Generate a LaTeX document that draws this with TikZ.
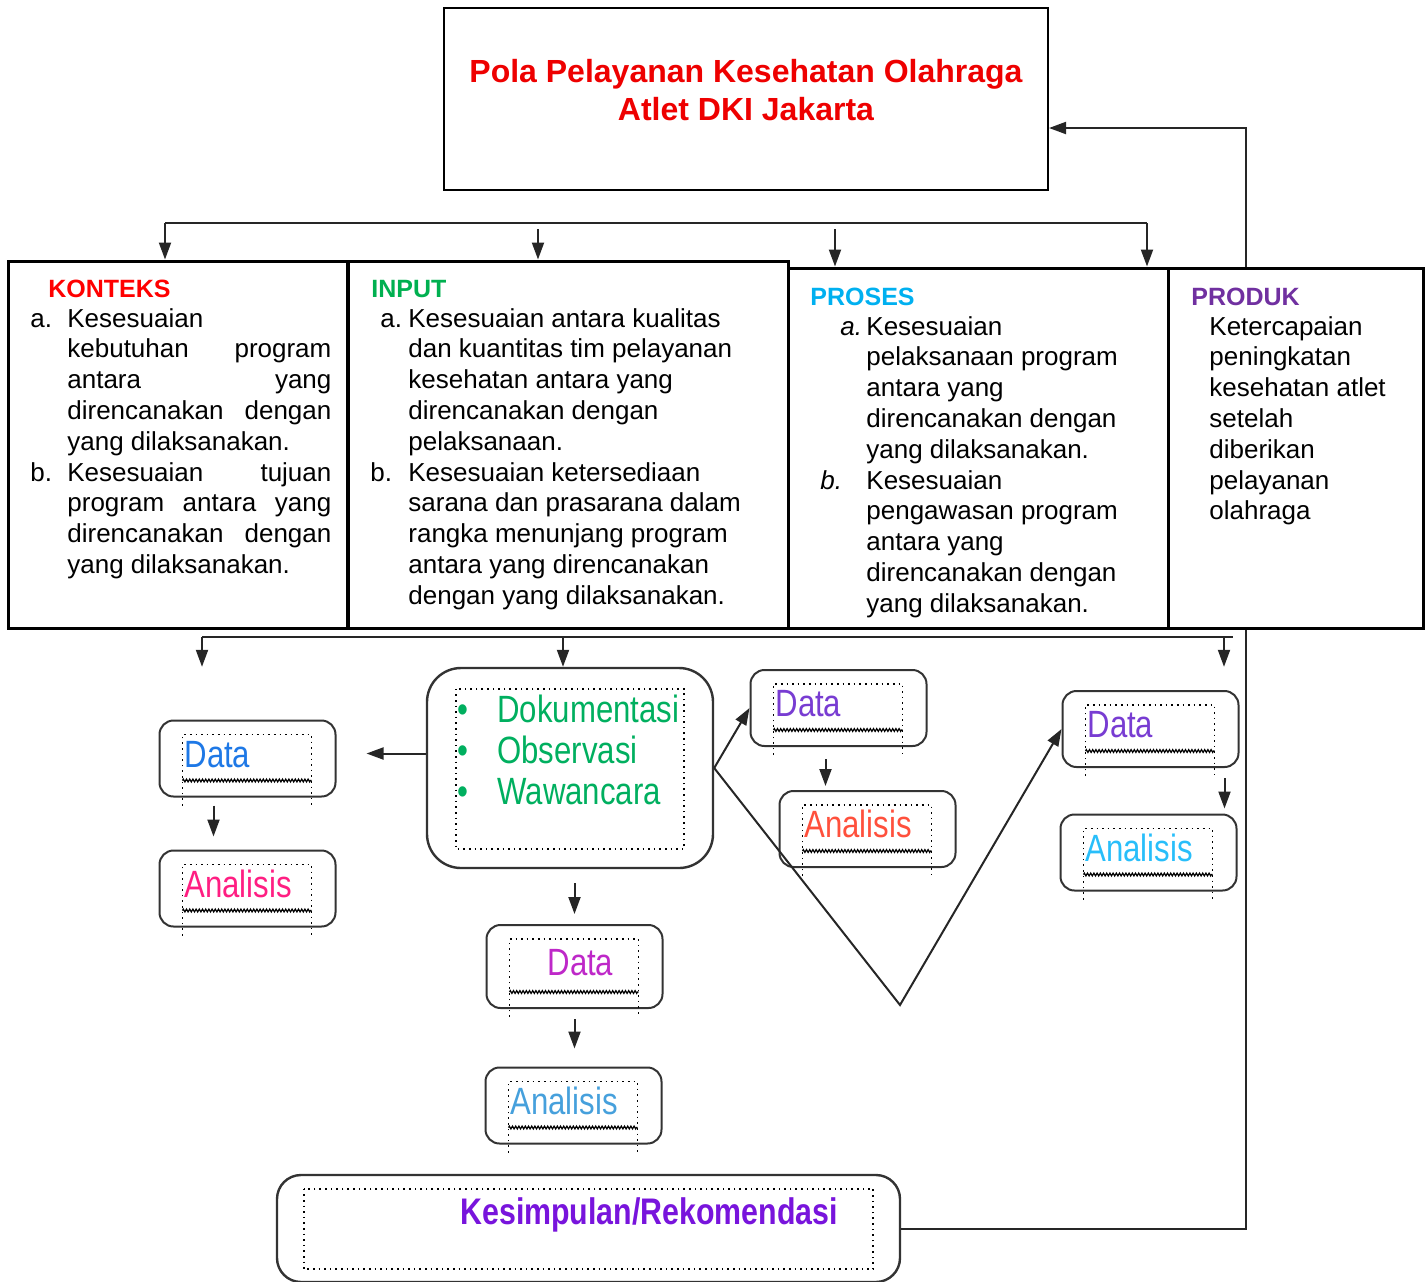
\documentclass[tikz,border=0pt]{standalone}
\usepackage{fontspec}
\setmainfont{Liberation Sans}
\newfontfamily\narrowfont[FakeStretch=0.82]{Liberation Sans}
\usepackage{array}
\usetikzlibrary{arrows.meta,decorations.pathmorphing}

\definecolor{titlered}{RGB}{238,0,0}
\definecolor{konteksred}{RGB}{255,0,0}
\definecolor{inputgreen}{RGB}{0,176,80}
\definecolor{prosesblue}{RGB}{0,176,240}
\definecolor{produkpurple}{RGB}{112,48,160}
\definecolor{docgreen}{RGB}{0,175,95}
\definecolor{datablue}{RGB}{30,120,230}
\definecolor{anapink}{RGB}{255,30,130}
\definecolor{datamag}{RGB}{190,40,200}
\definecolor{anablue}{RGB}{70,160,220}
\definecolor{datapurple}{RGB}{120,60,210}
\definecolor{anaorange}{RGB}{255,80,60}
\definecolor{anacyan}{RGB}{40,190,250}
\definecolor{kespurple}{RGB}{120,20,220}

\begin{document}
\begin{tikzpicture}[x=0.5pt,y=-0.5pt,
  box/.style={draw, line width=1.5pt, inner sep=0pt},
  rbox/.style={draw=black!80, line width=1.2pt, inner sep=0pt},
  sbox/.style={draw=black!80, line width=1pt, rounded corners=7pt, minimum width=88pt, minimum height=38pt,
    text width=63pt, inner xsep=12pt, align=left, text height=13.6pt, text depth=5pt,
    font=\narrowfont\fontsize{19}{22}\selectfont},
  arr/.style={-{Triangle[length=8.5pt,width=6pt]}, line width=1pt, draw=black!85},
  wire/.style={line width=1pt, draw=black!85},
  head/.style={anchor=base west, inner sep=0pt, font=\bfseries\fontsize{12.5}{15}\selectfont},
  body/.style={anchor=base west, inner sep=0pt, font=\fontsize{13}{15.4}\selectfont}]

\useasboundingbox (0,0) rectangle (1425,1281);
\clip (0,0) rectangle (1425,1281);

\node[box, line width=1pt, minimum width=302pt, minimum height=91pt] (title) at (746,99) {};
\node[anchor=base, inner sep=0pt, text=titlered, font=\bfseries\fontsize{16}{19}\selectfont] (title txt) at (746,82)
  {\begin{tabular}[t]{@{}c@{}}Pola Pelayanan Kesehatan Olahraga\\Atlet DKI Jakarta\end{tabular}};

\node[box, minimum width=169.5pt, minimum height=183.5pt] (konteks) at (177.5,444.5) {};
\node[box, minimum width=220pt, minimum height=183.5pt] (input) at (568,444.5) {};
\node[box, minimum width=190pt, minimum height=180pt] (proses) at (978,448) {};
\node[box, minimum width=127.5pt, minimum height=180pt] (produk) at (1295.5,448) {};

\node[head, text=konteksred] (konteks head) at (48,297) {KONTEKS};
\node[head, text=inputgreen] (input head) at (371,297) {INPUT};
\node[head, text=prosesblue] (proses head) at (810,305) {PROSES};
\node[head, text=produkpurple] (produk head) at (1191,305) {PRODUK};

\node[body] (konteks txt) at (30,327) {\begin{tabular}[t]{@{}p{18.5pt}@{}p{132pt}@{}}
a. & Kesesuaian\\
   & kebutuhan\hfill program\\
   & antara\hfill yang\\
   & direncanakan\hfill dengan\\
   & yang dilaksanakan.\\
b. & Kesesuaian\hfill tujuan\\
   & program\hfill antara\hfill yang\\
   & direncanakan\hfill dengan\\
   & yang dilaksanakan.
\end{tabular}};

\node[body] (input txt) at (370,327) {\begin{tabular}[t]{@{}p{19pt}@{}l@{}}
\hspace{5pt}a. & Kesesuaian antara kualitas\\
   & dan kuantitas tim pelayanan\\
   & kesehatan antara yang\\
   & direncanakan dengan\\
   & pelaksanaan.\\
b. & Kesesuaian ketersediaan\\
   & sarana dan prasarana dalam\\
   & rangka menunjang program\\
   & antara yang direncanakan\\
   & dengan yang dilaksanakan.
\end{tabular}};

\node[body] (proses txt) at (820,335) {\begin{tabular}[t]{@{}p{23pt}@{}l@{}}
\hspace{10pt}\textit{a.} & Kesesuaian\\
   & pelaksanaan program\\
   & antara yang\\
   & direncanakan dengan\\
   & yang dilaksanakan.\\
\textit{b.} & Kesesuaian\\
   & pengawasan program\\
   & antara yang\\
   & direncanakan dengan\\
   & yang dilaksanakan.
\end{tabular}};

\node[body] (produk txt) at (1209,335) {\begin{tabular}[t]{@{}l@{}}
Ketercapaian\\
peningkatan\\
kesehatan atlet\\
setelah\\
diberikan\\
pelayanan\\
olahraga
\end{tabular}};

\node[rbox, rounded corners=17pt, minimum width=143pt, minimum height=100pt] (docs) at (570,768) {};
\draw[dotted, line width=0.8pt] ([shift={(15pt,-11pt)}]docs.north west) rectangle ([shift={(-15pt,10pt)}]docs.south east);
\node[anchor=base west, inner sep=0pt, text=docgreen, font=\narrowfont\fontsize{19}{20.5}\selectfont] (docs txt) at (457,722)
  {\begin{tabular}[t]{@{}p{20pt}@{}l@{}}
  \textbullet & Dokumentasi\\
  \textbullet & Observasi\\
  \textbullet & Wawancara
  \end{tabular}};

\node[sbox, text=datablue] (dataA) at (247.5,758.5) {Data};
\node[sbox, text=anapink] (anaA) at (247.5,888.5) {Analisis};
\node[sbox, minimum height=41.5pt, text=datamag] (dataB) at (574.5,966.5) {\hspace{18pt}Data};
\node[sbox, text=anablue] (anaB) at (573.5,1105.5) {Analisis};
\node[sbox, text=datapurple] (dataC) at (838.5,708) {Data};
\node[sbox, text=anaorange] (anaC) at (867.5,829) {Analisis};
\node[sbox, text=datapurple] (dataD) at (1150.5,729) {Data};
\node[sbox, text=anacyan] (anaD) at (1148.5,852.5) {Analisis};

\foreach \b in {dataA,anaA,dataB,anaB,dataC,anaC,dataD,anaD}{
  \draw[dotted, line width=0.8pt] ([shift={(12pt,-4pt)}]\b.south west) |- ([shift={(-12.5pt,-7.5pt)}]\b.north east)
    -- ([shift={(-12.5pt,-4pt)}]\b.south east);
  \draw[decorate, decoration={zigzag, amplitude=0.7pt, segment length=1.6pt}, line width=0.6pt]
    ([shift={(12pt,8.5pt)}]\b.south west) -- ([shift={(-12.5pt,8.5pt)}]\b.south east);
}

\node[rbox, rounded corners=12pt, minimum width=311.5pt, minimum height=53.5pt] (kes) at (588.5,1228.5) {};
\draw[dotted, line width=0.8pt] ([shift={(14pt,-7.5pt)}]kes.north west) rectangle ([shift={(-14pt,7pt)}]kes.south east);
\node[anchor=base west, inner sep=0pt, text=kespurple, font=\narrowfont\bfseries\fontsize{18.5}{20}\selectfont] (kes txt) at (460,1224) {Kesimpulan/Rekomendasi};

\coordinate (bus a) at (165,223);
\coordinate (bus b) at (538,223);
\coordinate (bus c) at (835,223);
\coordinate (bus d) at (1147,223);
\draw[wire] (bus a) -- (bus d);
\draw[arr] (bus a) -- (bus a |- konteks.north);
\draw[arr, shorten <=3pt] (bus b) -- (bus b |- input.north);
\draw[arr, shorten <=3pt] (bus c) -- (bus c |- proses.north);
\draw[arr] (bus d) -- (bus d |- produk.north);

\coordinate (fb) at (1246,128);
\draw[arr] (fb |- produk.north) -- (fb) -- (fb -| title.east);
\draw[wire] (kes.east) -| (fb |- produk.south);

\coordinate (low a) at (202,637);
\coordinate (low b) at (563,637);
\coordinate (low c) at (1224,637);
\draw[wire] (low a) -- ([xshift=4.5pt]low c);
\draw[arr] (low a) -- (low a |- docs.north);
\draw[arr] (low b) -- (low b |- docs.north);
\draw[arr] (low c) -- (low c |- docs.north);

\draw[arr, shorten >=15pt] ([yshift=2.5pt]docs.west |- dataA.east) -- ([yshift=2.5pt]dataA.east);
\draw[arr] (docs.east) -- (dataC.west);
\coordinate (vtip) at (900,1005);
\draw[arr] (docs.east) -- (vtip) -- (dataD.west);

\draw[arr, shorten <=7pt, shorten >=5pt] (docs.south -| dataB.north) -- (dataB.north);
\draw[arr, shorten <=4pt, shorten >=6.5pt] ([xshift=-17pt]dataA.south) -- ([xshift=-17pt]anaA.north);
\draw[arr, shorten <=5pt, shorten >=9pt] (dataB.south) -- (dataB.south |- anaB.north);
\coordinate (c arr) at ([xshift=-6.5pt]dataC.south);
\draw[arr, shorten <=6pt, shorten >=2pt] (c arr) -- (c arr |- anaC.north);
\coordinate (d arr) at ([xshift=-7.5pt]dataD.south east);
\draw[arr, shorten <=5pt, shorten >=2.5pt] (d arr) -- (d arr |- anaD.north);

\end{tikzpicture}
\end{document}
